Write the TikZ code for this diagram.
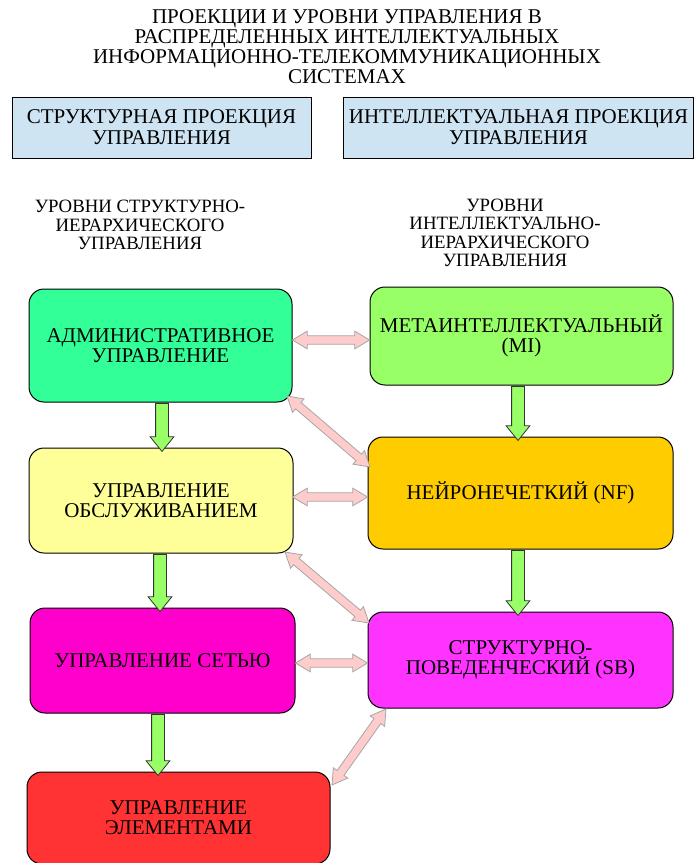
\documentclass[tikz,border=0pt]{standalone}
\usepackage{fontspec}
\setmainfont{Liberation Serif}
\usetikzlibrary{calc,shapes.arrows}
\definecolor{hdrblue}{RGB}{207,228,242}
\definecolor{cadmin}{RGB}{51,255,153}
\definecolor{cmi}{RGB}{153,255,102}
\definecolor{cserv}{RGB}{255,255,153}
\definecolor{cnf}{RGB}{255,204,0}
\definecolor{cnet}{RGB}{255,0,204}
\definecolor{csb}{RGB}{255,51,255}
\definecolor{celem}{RGB}{255,51,51}
\definecolor{garrow}{RGB}{153,255,102}
\definecolor{parrow}{RGB}{255,204,204}
\newcommand\fatarr[4]{\path let \p1=(#3), \p2=(#4), \n1={atan2(\y2-\y1,\x2-\x1)}, \n2={veclen(\x2-\x1,\y2-\y1)} in node[#1, minimum height=\n2, rotate=\n1] (#2) at ($(\p1)!0.5!(\p2)$) {};}
\begin{document}
\begin{tikzpicture}[x=1pt,y=-1pt,
  txt/.style={align=center,font=\fontsize{21}{20}\selectfont},
  hdr/.style={draw=black,fill=hdrblue,line width=0.8pt,align=center,font=\fontsize{21}{21}\selectfont,inner sep=0pt},
  lvl/.style={draw=black,line width=1pt,rounded corners=15pt,align=center,font=\fontsize{21}{20}\selectfont,inner sep=0pt},
  lbl/.style={align=center,font=\fontsize{18.8}{18.5}\selectfont},
  garr/.style={single arrow,draw=black!80,fill=garrow,line width=0.8pt,minimum width=0pt,inner xsep=0pt,inner ysep=6pt,single arrow head extend=5.5pt,single arrow tip angle=78,single arrow head indent=0pt},
  parr/.style={double arrow,draw=black!35,fill=parrow,line width=0.8pt,minimum width=0pt,inner xsep=0pt,inner ysep=3.8pt,double arrow head extend=4.7pt,double arrow tip angle=62,double arrow head indent=0pt}]
\useasboundingbox (0,0) rectangle (694,863);
\node[txt] (title) at (347,47) {ПРОЕКЦИИ И УРОВНИ УПРАВЛЕНИЯ В\\РАСПРЕДЕЛЕННЫХ ИНТЕЛЛЕКТУАЛЬНЫХ\\ИНФОРМАЦИОННО-ТЕЛЕКОММУНИКАЦИОННЫХ\\СИСТЕМАХ};
\node[hdr,minimum width=299pt,minimum height=61pt] (h1) at (161.5,127.5) {СТРУКТУРНАЯ ПРОЕКЦИЯ\\УПРАВЛЕНИЯ};
\node[hdr,minimum width=350pt,minimum height=61pt] (h2) at (518.5,127.5) {ИНТЕЛЛЕКТУАЛЬНАЯ ПРОЕКЦИЯ\\УПРАВЛЕНИЯ};
\node[lbl] (l1) at (140,225) {УРОВНИ СТРУКТУРНО-\\ИЕРАРХИЧЕСКОГО\\УПРАВЛЕНИЯ};
\node[lbl] (l2) at (505,233) {УРОВНИ\\ИНТЕЛЛЕКТУАЛЬНО-\\ИЕРАРХИЧЕСКОГО\\УПРАВЛЕНИЯ};
\node[lvl,fill=cadmin,minimum width=263pt,minimum height=113pt] (adm) at (160.5,345.5) {АДМИНИСТРАТИВНОЕ\\УПРАВЛЕНИЕ};
\node[lvl,fill=cmi,minimum width=303pt,minimum height=98pt] (mi) at (521.5,336) {МЕТАИНТЕЛЛЕКТУАЛЬНЫЙ\\(MI)};
\node[lvl,fill=cserv,minimum width=264pt,minimum height=105pt] (srv) at (161,500.5) {УПРАВЛЕНИЕ\\ОБСЛУЖИВАНИЕМ};
\node[lvl,fill=cnf,minimum width=305pt,minimum height=112pt] (nf) at (520.5,493) {НЕЙРОНЕЧЕТКИЙ (NF)};
\node[lvl,fill=cnet,minimum width=265pt,minimum height=105pt] (net) at (162.5,660.5) {УПРАВЛЕНИЕ СЕТЬЮ};
\node[lvl,fill=csb,minimum width=305pt,minimum height=96pt] (sb) at (520.5,660) {СТРУКТУРНО-\\ПОВЕДЕНЧЕСКИЙ (SB)};
\node[lvl,fill=celem,minimum width=303pt,minimum height=92pt] (el) at (178.5,818) {УПРАВЛЕНИЕ\\ЭЛЕМЕНТАМИ};
% green vertical arrows
\fatarr{garr}{g1}{[yshift=3pt]adm.south -| 162,0}{srv.north -| 162,0}
\fatarr{garr}{g2}{[yshift=3pt]srv.south -| 160,0}{net.north -| 160,0}
\fatarr{garr}{g3}{[yshift=3pt]net.south -| 158,0}{el.north -| 158,0}
\fatarr{garr}{g4}{[yshift=3pt]mi.south -| 518,0}{nf.north -| 518,0}
\fatarr{garr}{g5}{[yshift=3pt]nf.south -| 518,0}{sb.north -| 518,0}
% pink double arrows
\fatarr{parr}{p1}{adm.east |- 0,340}{mi.west |- 0,340}
\fatarr{parr}{p2}{adm.east |- 0,497}{nf.west |- 0,497}
\fatarr{parr}{p3}{net.east |- 0,663}{sb.west |- 0,663}
\coordinate (c1) at (287,396);
\coordinate (c2) at (370,467);
\coordinate (c3) at (285,552);
\coordinate (c4) at (369,623);
\coordinate (c5) at (386,709);
\coordinate (c6) at (332,785);
\fatarr{parr}{p4}{c1}{c2}
\fatarr{parr}{p5}{c3}{c4}
\fatarr{parr}{p6}{c5}{c6}
\end{tikzpicture}
\end{document}
